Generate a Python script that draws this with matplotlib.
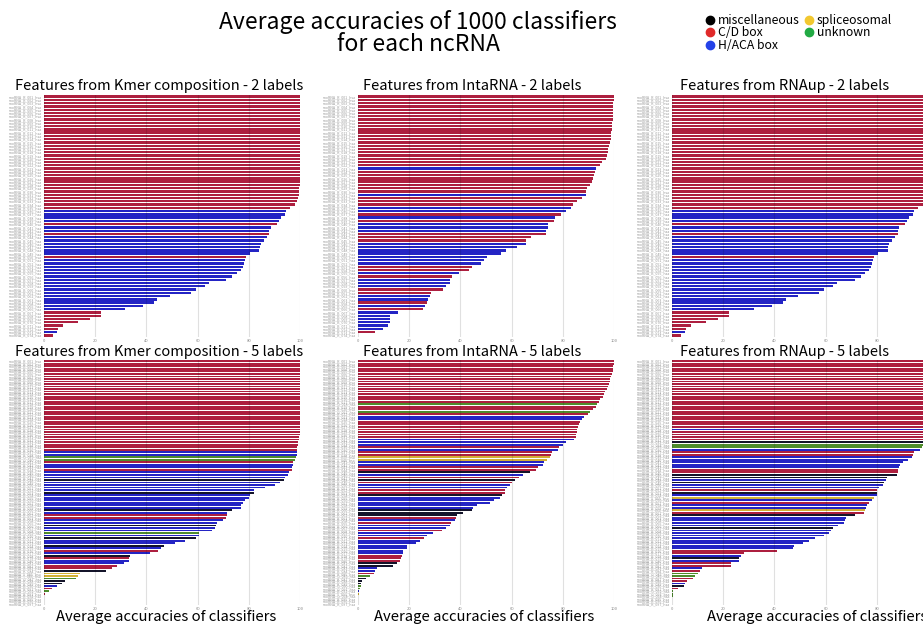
#!/usr/bin/env python3
import matplotlib
matplotlib.use('Agg')
import matplotlib.pyplot as plt
from matplotlib.lines import Line2D

plt.rcParams['font.family'] = ['Noto Sans CJK JP', 'DejaVu Sans']

# class codes: K misc, R C/D box, B H/ACA box, Y spliceosomal, G unknown
class_names = ['miscellaneous', 'C/D box', 'H/ACA box', 'spliceosomal', 'unknown']
class_codes = ['K', 'R', 'B', 'Y', 'G']
legend_colors = ['#000000', '#e02a2a', '#2442e8', '#f2c830', '#22aa44']
bar_colors = {'K': '#14142a', 'R': '#ad1f3f', 'B': '#2424c4',
              'Y': '#d2b034', 'G': '#4e8c2c'}

# ---- 2 labels ----
kmer2_acc = [100.0] * 28 + [99.8, 99.6, 99.5, 99.3, 99.0, 98.0, 96.0,
    94.5, 94.0, 92.7, 91.8, 91.0, 88.7, 88.0, 88.0, 87.0, 86.0, 84.7, 84.3,
    84.0, 80.4, 79.0, 78.6, 78.0, 77.7, 76.8, 75.3, 73.6, 71.2, 64.3, 62.9,
    59.5, 57.5, 49.1, 44.3, 43.1, 38.8, 31.8, 22.2, 22.2, 17.9, 13.4, 7.5,
    5.5, 5.2, 3.5]
kmer2_cls = 'R' * 35 + 'BBBBRBBRBBBBBBR' + 'B' * 16 + 'RRRRRRBR'

inta2_acc = [100.0, 100.0, 99.7, 99.7, 99.7, 99.6, 99.5, 99.5, 99.3, 99.2,
    99.1, 99.0, 98.8, 98.8, 98.4, 97.9, 97.8, 97.7, 97.1, 96.7, 95.4, 94.5,
    93.1, 92.4, 92.2, 91.9, 91.4, 90.6, 89.3, 89.2, 89.1, 87.4, 85.5, 84.0,
    83.3, 81.3, 79.4, 76.8, 76.6, 74.2, 74.2, 73.6, 73.3, 67.4, 65.6, 65.6,
    62.0, 57.9, 55.9, 50.3, 49.1, 48.0, 44.5, 43.2, 39.6, 36.7, 36.1, 35.9,
    34.5, 33.1, 28.4, 28.1, 27.5, 27.0, 26.2, 25.5, 15.8, 12.5, 12.5, 12.5,
    11.7, 9.6, 6.8, 0.0]
inta2_cls = ('R' * 22 + 'B' + 'R' * 7 + 'B' + 'RRR' + 'BB' + 'RBR' + 'BBB'
             + 'RRR' + 'B' * 7 + 'RR' + 'BR' + 'BBB' + 'RR' + 'BB' + 'RBR'
             + 'B' * 6 + 'RR')

rnaup2_acc = [100.0] * 28 + [99.8, 99.7, 99.5, 99.3, 99.0, 98.2, 96.0,
    94.5, 94.1, 92.7, 91.9, 91.0, 88.8, 88.1, 88.1, 87.1, 86.1, 84.7, 84.4,
    84.2, 80.5, 79.1, 78.7, 78.2, 77.9, 77.0, 75.5, 73.8, 71.4, 64.4, 62.9,
    59.5, 57.5, 49.1, 44.4, 43.2, 38.9, 31.9, 22.3, 22.3, 17.9, 13.4, 7.6,
    5.5, 5.2, 3.5]
rnaup2_cls = 'R' * 35 + 'BBBBRBBRBBBBBBR' + 'B' * 16 + 'RRRRRRBR'

# ---- 5 labels ----
kmer5_acc = [100.0] * 30 + [99.8, 99.6, 99.4, 99.2, 99.0, 98.9,
    98.8, 98.7, 98.4, 98.2, 97.4, 97.1, 97.0, 96.8, 95.8, 95.5, 94.2, 93.9,
    92.2, 90.3, 86.4, 82.2, 81.9, 80.3, 79.9, 78.6, 77.9, 77.0, 76.8, 73.4,
    71.4, 71.4, 71.2, 70.0, 67.7, 67.3, 66.9, 65.8, 60.5, 60.5, 59.5, 55.2,
    51.3, 46.8, 45.8, 44.5, 41.6, 33.5, 33.2, 33.1, 31.4, 28.4, 26.4, 24.3,
    14.2, 13.4, 12.6, 8.2, 7.0, 4.9, 3.2, 2.1,
    0.2, 0.1, 0.1, 0.0, 0.0]
kmer5_cls = ('R' * 36 + 'BBGGR' 'BBRBB' 'BKBBB' 'BKBBB' 'BBBKB' 'RRBBK'
             'BBGBK' 'BBKBR' 'BKRBB' 'RRKYY' 'GKKBR' 'G' + 'RRRRR')

inta5_acc = [100.0, 99.9, 99.7, 99.6, 99.5, 99.2, 99.0, 98.6, 98.3, 98.0,
    97.7, 97.4, 96.4, 96.0, 95.6, 94.5, 94.3, 93.2, 93.0, 91.7, 90.5, 89.7,
    88.4, 87.5, 86.7, 86.2, 85.8, 85.7, 85.4, 85.3, 85.0, 84.4, 81.4, 80.1,
    78.5, 78.1, 75.7, 75.3, 74.9, 73.7, 72.7, 72.3, 70.3, 69.7, 67.2, 64.3,
    62.8, 61.2, 60.3, 59.2, 58.2, 57.4, 57.4, 56.1, 55.5, 53.3, 51.4, 46.5,
    44.9, 44.4, 41.0, 38.7, 38.4, 37.9, 36.2, 35.8, 34.4, 32.8, 29.4, 26.8,
    25.9, 24.1, 22.7, 19.1, 19.1, 17.7, 17.6, 17.3, 16.9, 16.3, 15.1, 13.7,
    7.3, 6.5, 6.4, 4.6, 3.0, 1.4, 1.2, 1.0, 0.7, 0.4, 0.3, 0.1,
    0.0, 0.0, 0.0]
inta5_cls = ('R' * 17 + 'GRRGR' + 'BB' + 'R' * 7 + 'BBB' + 'RB' + 'RR' + 'YY'
             + 'BB' + 'RR' + 'KBRKR' + 'BB' + 'RR' + 'K' + 'BBBBB' + 'KKK'
             + 'RBR' + 'BB' + 'R' + 'BB' + 'R' + 'B' * 6 + 'RRR' + 'KK' + 'BB'
             + 'RG' + 'KKK' + 'GG' + 'BYG' + 'RRR')

rnaup5_acc = [100.0] * 27 + [99.8, 99.6, 99.5, 99.4, 99.2, 99.0, 98.2, 97.5,
    96.8, 94.5, 94.2, 93.9, 92.2, 90.4, 89.0, 88.6, 88.3, 88.1, 87.8, 83.8,
    83.5, 83.0, 82.6, 80.9, 79.9, 79.9, 79.9, 79.0, 78.1, 76.9, 76.0, 75.8,
    75.3, 75.1, 71.3, 67.8, 67.7, 67.3, 64.7, 63.0, 62.1, 61.4, 59.2, 55.7,
    53.4, 51.2, 47.8, 47.4, 41.2, 28.1, 27.1, 26.2, 26.0, 23.2, 23.2, 11.6,
    10.8, 10.0, 9.0, 8.1, 5.8, 5.2, 4.8, 2.3, 0.5, 0.4, 0.3,
    0.0, 0.0, 0.0]
rnaup5_cls = ('R' * 27 + 'B' + 'RRRR' + 'K' + 'GG' + 'BRRBB' 'BBBRR' 'KKBKB'
              'BRKBY' 'BRBBY' 'RKBBB' 'BKBBB' 'BBBBB' 'RRBKB' 'RRBRG' 'GRRBK'
              'RGGG' + 'RRR')

panel_titles = ['Features from Kmer composition - 2 labels',
                'Features from IntaRNA - 2 labels',
                'Features from RNAup - 2 labels',
                'Features from Kmer composition - 5 labels',
                'Features from IntaRNA - 5 labels',
                'Features from RNAup - 5 labels']
panels = [(kmer2_acc, kmer2_cls), (inta2_acc, inta2_cls), (rnaup2_acc, rnaup2_cls),
          (kmer5_acc, kmer5_cls), (inta5_acc, inta5_cls), (rnaup5_acc, rnaup5_cls)]
x_ticks = [0, 20, 40, 60, 80, 100]

W, H = 923.0, 625.0
COL_LEFT = [44, 358, 672]
COL_W = 256
ROWS = [(95, 337), (360, 605)]          # top / bottom pixel of each row
TITLE_X = [159, 472, 785]
TITLE_Y = [86, 352]
XLABEL_X = [166, 484, 817]


def draw_panel(fig, k, acc, cls):
    row, col = divmod(k, 3)
    top, bot = ROWS[row]
    ax = fig.add_axes([COL_LEFT[col] / W, 1 - bot / H, COL_W / W, (bot - top) / H])
    n = len(acc)
    ypos = list(range(n))
    colors = [bar_colors[c] for c in cls]
    ax.barh(ypos, acc, height=0.72, color=colors, linewidth=0, zorder=2)
    ax.set_xlim(0, 100)
    ax.set_ylim(n - 0.5, -0.5)
    ax.set_xticks(x_ticks)
    ax.set_xticklabels([str(t) for t in x_ticks], fontsize=3, color='#888888')
    ax.set_yticks(ypos)
    names = ['snoRNA_%s_%03d_hsa' % (c, i + 1) for i, c in enumerate(cls)]
    ax.set_yticklabels(names, fontsize=2.6, color='#9a9a9a')
    ax.tick_params(length=0, pad=1.5)
    for s in ax.spines.values():
        s.set_visible(False)
    ax.grid(axis='x', color='#000000', alpha=0.12, linewidth=0.8, zorder=3)
    ax.set_axisbelow(False)
    fig.text(TITLE_X[col] / W, 1 - TITLE_Y[row] / H, panel_titles[k],
             ha='center', va='center', fontsize=10.5)
    if row == 1:
        fig.text(XLABEL_X[col] / W, 1 - 617 / H, 'Average accuracies of classifiers',
                 ha='center', va='center', fontsize=10.7)
    return ax


def run():
    fig = plt.figure(figsize=(W / 100, H / 100), dpi=100)
    for k, (acc, cls) in enumerate(panels):
        draw_panel(fig, k, acc, cls)

    fig.text(418 / W, 1 - 33 / H, 'Average accuracies of 1000 classifiers\nfor each ncRNA',
             ha='center', va='center', fontsize=16.5, linespacing=0.92)

    handles = [Line2D([], [], marker='o', linestyle='none', markersize=6,
                      markerfacecolor=c, markeredgecolor=c) for c in legend_colors]
    fig.legend(handles, class_names, loc='upper left', ncol=2,
               bbox_to_anchor=(698 / W, 1 - 8 / H), frameon=False, fontsize=8.8,
               handletextpad=0.15, labelspacing=-0.05, columnspacing=0.2,
               borderpad=0, handlelength=1.0)

    fig.savefig('out.png', dpi=100)


if __name__ == '__main__':
    run()
